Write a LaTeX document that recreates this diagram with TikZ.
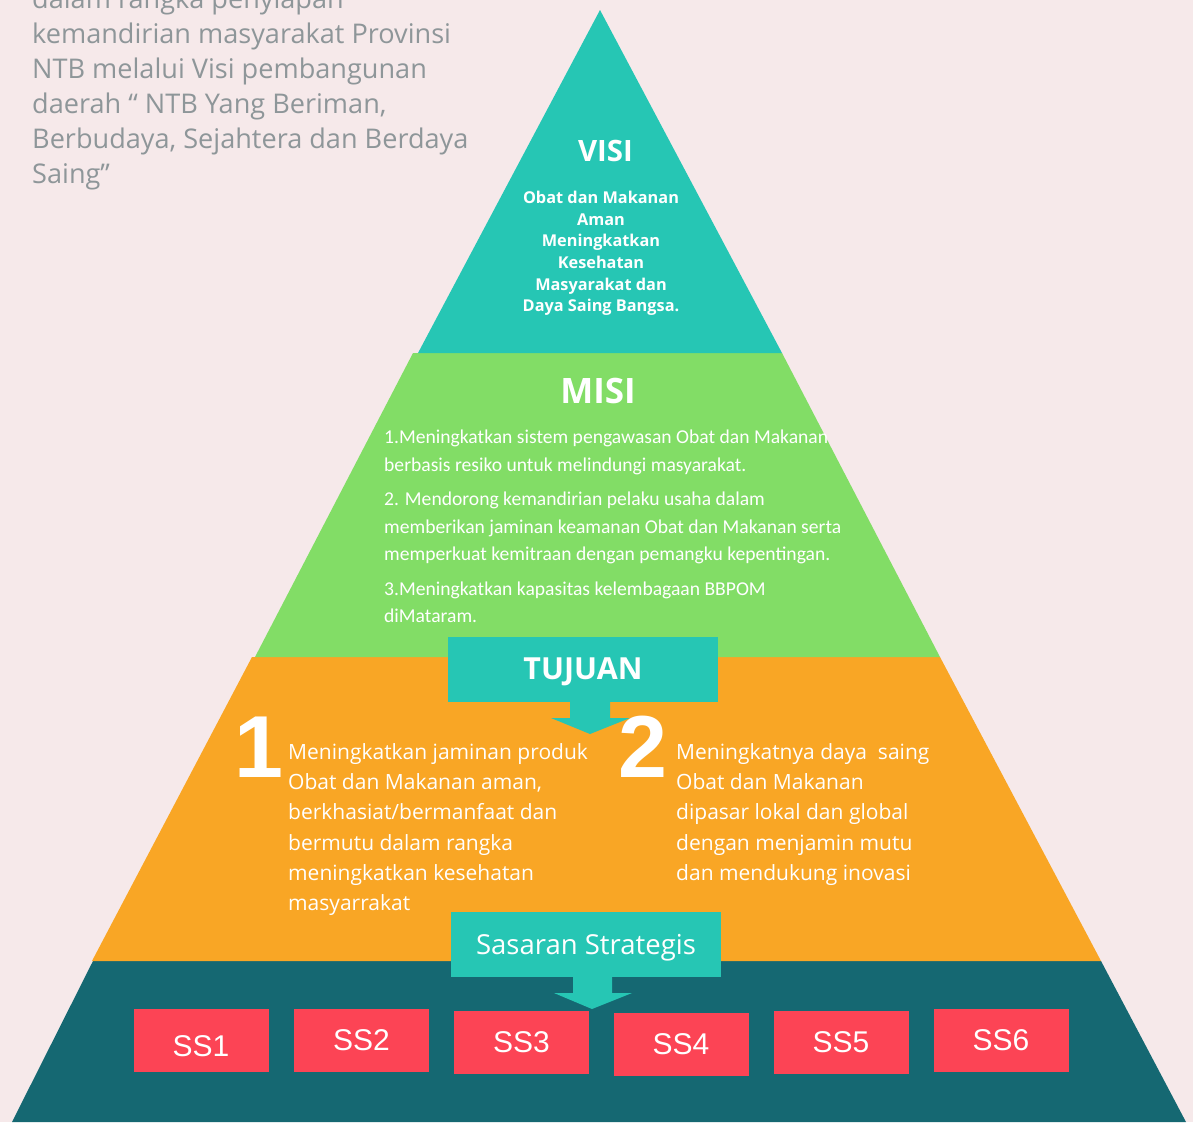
\documentclass[tikz,border=0pt]{standalone}
\usepackage{fontspec}
\setmainfont{Open Sans}
\newfontfamily\carlito{Carlito}
\newfontfamily\arialf{Liberation Sans}
\definecolor{bg}{HTML}{F6E9EA}
\definecolor{tealc}{HTML}{26C6B4}
\definecolor{greenc}{HTML}{82DD66}
\definecolor{orangec}{HTML}{F9A625}
\definecolor{darkc}{HTML}{156872}
\definecolor{redc}{HTML}{FC4455}
\definecolor{grayt}{HTML}{8E9699}
\begin{document}
\begin{tikzpicture}[x=1pt,y=-1pt,
  ssbox/.style={fill=redc, minimum width=135pt, minimum height=63pt, inner sep=0pt,
    text=white, font=\arialf\fontsize{30}{30}\selectfont},
  hdrbox/.style={fill=tealc, inner sep=0pt, text=white},
  arrowshape/.style={fill=tealc},
  whitetxt/.style={text=white, inner sep=0pt},
  bignum/.style={text=white, inner sep=0pt, font=\arialf\bfseries\fontsize{88}{88}\selectfont}]
% canvas
\useasboundingbox (0,0) rectangle (1193,1122);
\fill[bg] (0,0) rectangle (1193,1122);
% pyramid bands
\fill[darkc] (93,961) -- (1101,961) -- (1186,1122) -- (12,1122) -- cycle;
\fill[orangec] (252,657) -- (940,657) -- (1101,961) -- (92,961) -- cycle;
\fill[greenc] (413,353) -- (782,353) -- (940,657) -- (255,657) -- cycle;
\fill[tealc] (600,10) -- (782,353) -- (418,353) -- cycle;
% intro text (base anchor = last line)
\node[anchor=base west, inner sep=0pt, align=left, text=grayt,
  font=\fontsize{27.1}{35}\selectfont] (intro) at (32,183.3)
  {dalam rangka penyiapan\\
   kemandirian masyarakat Provinsi\\
   NTB melalui Visi pembangunan\\
   daerah “ NTB Yang Beriman,\\
   Berbudaya, Sejahtera dan Berdaya\\
   Saing”};
% VISI
\node[whitetxt, anchor=base, font=\bfseries\fontsize{29.4}{30}\selectfont] (visi) at (605.5,161.7) {VISI};
\node[whitetxt, anchor=base, align=center, font=\bfseries\fontsize{16.3}{21.7}\selectfont] (visitxt) at (601,311.8)
  {Obat dan Makanan\\ Aman\\ Meningkatkan\\ Kesehatan\\ Masyarakat dan\\ Daya Saing Bangsa.};
% MISI
\node[whitetxt, anchor=base, font=\bfseries\fontsize{35}{36}\selectfont] (misi) at (598,403.3) {MISI};
\node[whitetxt, anchor=base west, align=left, font=\carlito\fontsize{19.6}{27.7}\selectfont] (misitxt) at (384,622.7)
  {1.Meningkatkan sistem pengawasan Obat dan Makanan\\
   berbasis resiko untuk melindungi masyarakat.\\[6.6pt]
   2. Mendorong kemandirian pelaku usaha dalam\\
   memberikan jaminan keamanan Obat dan Makanan serta\\
   memperkuat kemitraan dengan pemangku kepentingan.\\[6.6pt]
   3.Meningkatkan kapasitas kelembagaan BBPOM\\
   diMataram.};
% TUJUAN
\fill[arrowshape] (570,700) -- (610,700) -- (610,718) -- (630,718) -- (590,734) -- (551,718) -- (570,718) -- cycle;
\node[hdrbox, minimum width=270pt, minimum height=65pt, text height=21.7pt, text depth=2pt,
  font=\bfseries\fontsize{30.4}{31}\selectfont] (tujuan) at (583,669.5) {TUJUAN};
\node[bignum, anchor=base] (n1) at (259,777) {1};
\node[bignum, anchor=base] (n2) at (643,777) {2};
\node[whitetxt, anchor=base west, align=left, font=\fontsize{21}{30.3}\selectfont] (t1) at (288,910.8)
  {Meningkatkan jaminan produk\\ Obat dan Makanan aman,\\ berkhasiat/bermanfaat dan\\
   bermutu dalam rangka\\ meningkatkan kesehatan\\ masyarrakat};
\node[whitetxt, anchor=base west, align=left, font=\fontsize{21}{30.3}\selectfont] (t2) at (676,880.5)
  {Meningkatnya daya\ \ saing\\ Obat dan Makanan\\ dipasar lokal dan global\\
   dengan menjamin mutu\\ dan mendukung inovasi};
% Sasaran Strategis
\fill[arrowshape] (573,976) -- (612,976) -- (612,993) -- (632,993) -- (592,1009) -- (554,993) -- (573,993) -- cycle;
\node[hdrbox, minimum width=270pt, minimum height=65pt, text height=20pt, text depth=0pt,
  font=\fontsize{27.5}{28}\selectfont] (sasaran) at (586,944.5) {Sasaran Strategis};
% SS boxes
\node[ssbox] (ss1) at (201,1040.5) {\raisebox{-5.5pt}[21.5pt][0pt]{SS1}};
\node[ssbox] (ss2) at (361.5,1040.5) {SS2};
\node[ssbox] (ss3) at (521.5,1042.5) {SS3};
\node[ssbox] (ss4) at (681,1044.5) {SS4};
\node[ssbox] (ss5) at (841,1042.5) {SS5};
\node[ssbox] (ss6) at (1001,1040.5) {SS6};
\end{tikzpicture}
\end{document}
